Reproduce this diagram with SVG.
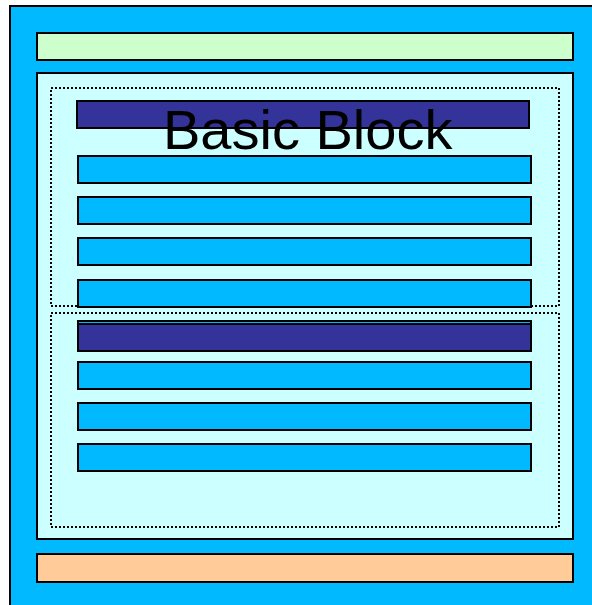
<svg xmlns="http://www.w3.org/2000/svg" width="592" height="605" viewBox="0 0 592 605">
<style>
.box{stroke:#000;stroke-width:2}
.blue{fill:#00B9FF}
.dark{fill:#333399}
.dot{fill:none;stroke:#000;stroke-width:2;stroke-dasharray:2 2}
.lbl{font-family:"Liberation Sans",Arial,sans-serif;font-size:56px;fill:#000}
</style>
<rect width="592" height="605" fill="#fff"/>
<g id="outer"><rect class="box blue" x="10" y="6" width="600" height="620"/></g>
<g id="header"><rect class="box" fill="#CCFFCC" x="37" y="33" width="536" height="27"/></g>
<g id="body"><rect class="box" fill="#CCFFFF" x="37" y="73" width="536" height="466"/></g>
<g id="footer"><rect class="box" fill="#FFCC99" x="37" y="554" width="536" height="28"/></g>
<g id="block1">
<rect class="dot" x="51" y="88" width="508" height="218"/>
<rect class="box dark" x="77" y="101" width="452" height="27"/>
<rect class="box blue" x="78" y="156" width="453" height="27"/>
<rect class="box blue" x="78" y="197" width="453" height="27"/>
<rect class="box blue" x="78" y="238" width="453" height="27"/>
<rect class="box blue" x="78" y="280" width="453" height="27"/>
</g>
<g id="block2">
<rect class="dot" x="51" y="313" width="508" height="214"/>
<rect class="box blue" x="78" y="321" width="453" height="27"/>
<rect class="box dark" x="78" y="324" width="453" height="27"/>
<rect class="box blue" x="78" y="362" width="453" height="27"/>
<rect class="box blue" x="78" y="403" width="453" height="27"/>
<rect class="box blue" x="78" y="444" width="453" height="27"/>
</g>
<g id="label"><text class="lbl" x="163" y="149">Basic Block</text></g>
<g id="connectors"/>
</svg>
